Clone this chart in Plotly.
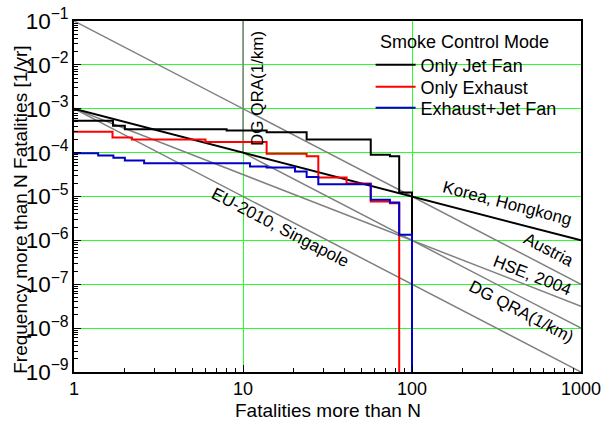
import plotly.graph_objects as go

# ---- data ----
# step curves (value holds from N_i to N_{i+1})
jet_N = [1, 1.7, 2, 8, 13.8, 23.8, 57, 74, 84, 100]
jet_F = [5.3e-4, 4.1e-4, 3.4e-4, 3.2e-4, 2.9e-4, 2.0e-4, 8.9e-5, 8.3e-5, 1.23e-5, 1e-9]

exh_N = [1, 1.69, 2.2, 6, 13.8, 23.8, 27.9, 41, 57, 74, 84]
exh_F = [3.0e-4, 2.2e-4, 2.0e-4, 1.75e-4, 9.4e-5, 8.3e-5, 2.7e-5, 1.97e-5, 7.7e-6, 7.0e-6, 1e-9]

both_N = [1, 1.39, 1.71, 2.0, 2.6, 11, 13.8, 20.3, 23.8, 27.9, 57, 74, 84, 100]
both_F = [9.7e-5, 8.6e-5, 7.6e-5, 6.6e-5, 5.7e-5, 4.8e-5, 4.6e-5, 3.7e-5, 2.8e-5, 1.9e-5, 8.4e-6, 7.3e-6, 1.35e-6, 1e-9]

# criterion lines
austria_N = [1, 1000]
austria_F = [1e-1, 1e-7]
korea_N = [1, 1000]
korea_F = [1e-3, 1e-6]
hse_N = [1, 1000]
hse_F = [1e-3, 3.16e-8]
eu_N = [1, 1000]
eu_F = [1e-3, 1e-9]
dg_N = [10, 10, 1000]
dg_F = [1e-1, 1e-4, 1e-8]

series_names = ["Only Jet Fan", "Only Exhaust", "Exhaust+Jet Fan"]

FONT = "Liberation Sans, Arial, sans-serif"
GRAY = "rgb(128,128,128)"

fig = go.Figure()

for n, f in [(austria_N, austria_F), (hse_N, hse_F), (eu_N, eu_F), (dg_N, dg_F)]:
    fig.add_trace(go.Scatter(x=n, y=f, mode="lines", line=dict(color=GRAY, width=1.5),
                             showlegend=False, hoverinfo="skip"))
fig.add_trace(go.Scatter(x=korea_N, y=korea_F, mode="lines", line=dict(color="black", width=2),
                         showlegend=False, hoverinfo="skip"))

fig.add_trace(go.Scatter(x=jet_N, y=jet_F, mode="lines", line=dict(color="black", width=2, shape="hv"),
                         name=series_names[0], legend="legend"))
fig.add_trace(go.Scatter(x=exh_N, y=exh_F, mode="lines", line=dict(color="rgb(255,0,0)", width=2, shape="hv"),
                         name=series_names[1], legend="legend2"))
fig.add_trace(go.Scatter(x=both_N, y=both_F, mode="lines", line=dict(color="rgb(0,0,200)", width=2, shape="hv"),
                         name=series_names[2], legend="legend3"))

labels = [
    ("DG QRA(1/km)", 1.083, -2.55, -90),
    ("Korea, Hongkong", 2.565, -5.16, 14.6),
    ("Austria", 2.805, -6.216, 27.5),
    ("HSE, 2004", 2.71, -6.81, 21.3),
    ("DG QRA(1/km)", 2.645, -7.61, 27.5),
    ("EU-2010, Singapole", 1.219, -5.715, 27.5),
]
for t, x, y, a in labels:
    fig.add_annotation(text=t, x=x, y=y, xref="x", yref="y", showarrow=False,
                       textangle=a, font=dict(family=FONT, size=17, color="black"))

# axis titles and legend title
fig.add_annotation(text="Fatalities more than N", x=0.5, y=-0.11, xref="paper", yref="paper",
                   showarrow=False, xanchor="center", yanchor="middle",
                   font=dict(family=FONT, size=19, color="black"))
fig.add_annotation(text="Frequency more than N Fatalities [1/yr]", x=-0.107, y=0.4615,
                   xref="paper", yref="paper", showarrow=False, textangle=-90,
                   xanchor="center", yanchor="middle",
                   font=dict(family=FONT, size=19, color="black"))
fig.add_annotation(text="Smoke Control Mode", x=0.599, y=0.94, xref="paper", yref="paper",
                   showarrow=False, xanchor="left", yanchor="middle",
                   font=dict(family=FONT, size=18, color="black"))

axis_common = dict(
    type="log", showline=True, linecolor="black", linewidth=1.5, mirror=True,
    ticks="inside", ticklen=7, tickwidth=1, tickcolor="black",
    showgrid=True, gridcolor="rgb(40,255,40)", gridwidth=1, zeroline=False,
    dtick=1, tickfont=dict(family=FONT, size=18, color="black"), automargin=False,
    minor=dict(ticks="inside", ticklen=4, tickcolor="black", dtick="D1", showgrid=False),
)

leg_common = dict(x=0.585, xanchor="left", yanchor="middle", bgcolor="rgba(0,0,0,0)",
                  font=dict(family=FONT, size=18, color="black"), itemwidth=40)

fig.update_layout(
    width=605, height=422,
    margin=dict(l=74, r=24, t=21, b=50),
    paper_bgcolor="white", plot_bgcolor="white",
    font=dict(family=FONT, color="black"),
    xaxis=dict(axis_common, range=[0, 3], exponentformat="none"),
    yaxis=dict(axis_common, range=[-9, -1], exponentformat="power"),
    legend=dict(leg_common, y=0.8746),
    legend2=dict(leg_common, y=0.812),
    legend3=dict(leg_common, y=0.752),
    showlegend=True,
)

fig.write_html("out.html", config={"displayModeBar": False},
               post_script="document.body.style.margin='0';document.body.style.padding='0';")
